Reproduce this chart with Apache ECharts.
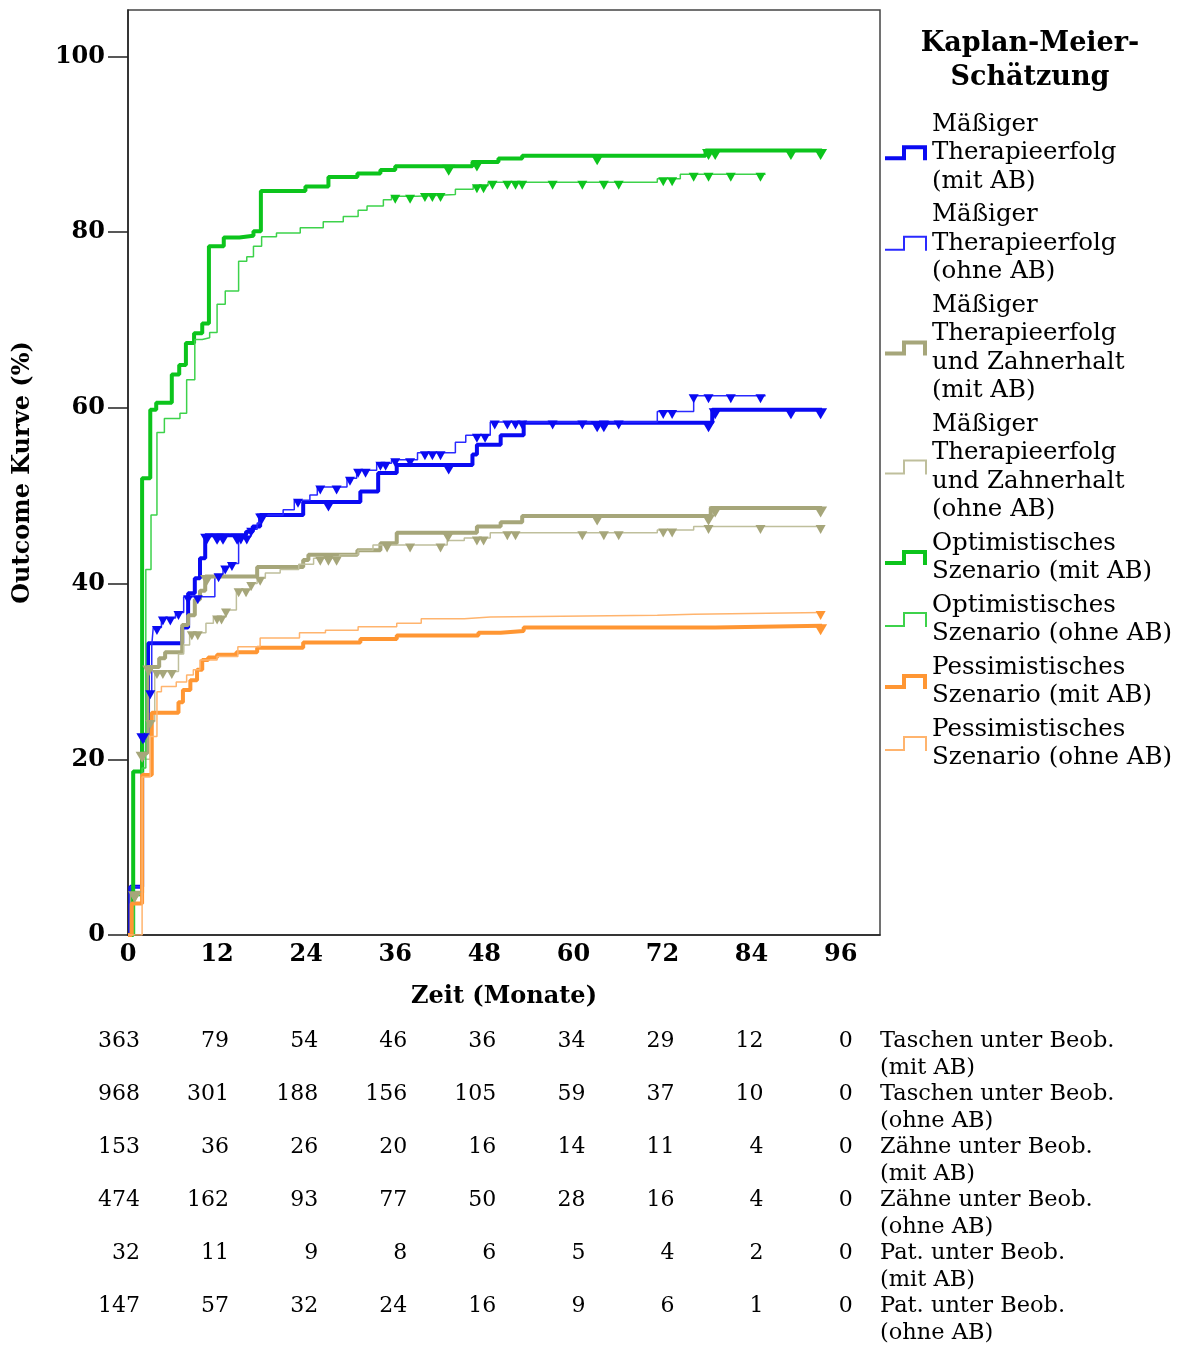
<!DOCTYPE html>
<html>
<head>
<meta charset="utf-8">
<script src="https://cdn.jsdelivr.net/npm/echarts@6/dist/echarts.min.js"></script>
<style>
  html, body { margin: 0; padding: 0; background: #ffffff; }
  #chart { width: 1183px; height: 1347px; }
</style>
</head>
<body>
<div id="chart"></div>
<script>
// Axis tick values
const xTicks = [0, 12, 24, 36, 48, 60, 72, 84, 96];
const yTicks = [0, 20, 40, 60, 80, 100];

// Kaplan-Meier step points: [Zeit in Monaten, kumulierter Anteil in %]
const maessigMitSteps = [[0,0],[0.3,5.5],[1.9,22.8],[2.7,33.2],[7.3,35.0],[8.1,38.9],[9.0,40.6],[9.7,42.9],[10.4,45.5],[15.9,45.9],[16.8,46.5],[17.8,47.8],[23.6,49.3],[31.3,50.5],[33.7,52.6],[36.2,53.5],[46.4,54.7],[47.0,55.8],[50.2,56.9],[53.3,58.3],[78.7,59.8],[93.5,59.8]];
const maessigOhneSteps = [[0,0],[0.3,5.5],[1.9,22.0],[2.4,27.7],[3.2,33.0],[3.4,35.0],[4.5,36.1],[6.4,36.7],[7.5,38.5],[11.7,41.0],[12.8,41.9],[13.6,42.3],[14.9,45.3],[16.5,46.2],[17.4,46.9],[17.8,47.8],[20.9,48.4],[22.4,49.5],[24.5,50.1],[25.5,51.0],[29.5,52.0],[30.8,52.9],[33.5,53.7],[35.5,54.1],[39.0,54.9],[44.1,56.1],[45.5,56.9],[48.8,58.4],[71.3,59.6],[76.2,61.4],[85.9,61.4]];
const zahnMitSteps = [[0,0],[0.5,4.8],[1.9,20.7],[2.6,30.5],[4.2,31.5],[5.0,32.2],[7.3,35.3],[8.1,36.4],[9.0,38.2],[9.7,39.2],[10.4,40.8],[17.4,41.9],[23.6,42.7],[24.3,43.3],[30.9,43.8],[34.0,44.6],[36.2,45.8],[47.0,46.5],[50.2,47.0],[53.1,47.7],[78.5,48.6],[93.5,48.6]];
const zahnOhneSteps = [[0,0],[0.5,4.5],[1.9,20.0],[3.0,24.3],[3.6,30.0],[6.8,32.0],[7.5,33.0],[8.3,34.4],[10.5,35.5],[11.5,36.2],[13.2,37.0],[14.6,39.3],[16.5,40.0],[17.4,40.6],[18.5,41.2],[20.5,41.6],[23.0,42.2],[25.0,42.9],[28.5,43.3],[31.0,43.8],[33.0,44.4],[43.0,44.9],[45.3,45.2],[48.8,45.8],[71.3,46.1],[76.2,46.5],[93.5,46.5]];
const optimMitSteps = [[0,0],[0.7,18.6],[1.9,52.0],[3.0,59.8],[3.8,60.6],[5.9,63.8],[6.9,64.9],[7.8,67.4],[8.9,68.5],[10.0,69.6],[10.9,78.4],[12.9,79.4],[15.0,79.6],[16.9,80.1],[17.9,84.7],[23.9,85.2],[27.0,86.3],[30.9,86.7],[34.0,87.1],[36.0,87.5],[46.4,88.0],[49.9,88.4],[53.1,88.7],[77.8,89.3],[93.5,89.3]];
const optimOhneSteps = [[0,0],[0.8,4.5],[1.9,19.0],[2.4,41.6],[3.1,47.8],[3.9,57.2],[4.9,58.8],[7.0,59.4],[7.9,63.2],[9.0,67.8],[10.0,68.0],[11.0,68.6],[12.0,71.8],[13.1,73.3],[14.9,76.7],[16.0,77.2],[16.9,78.4],[18.0,79.5],[20.0,79.9],[23.2,80.5],[26.3,81.2],[29.0,81.8],[31.0,82.5],[32.2,83.0],[34.4,83.7],[35.5,84.1],[39.0,84.3],[44.1,84.9],[46.5,85.3],[48.5,85.7],[71.3,86.1],[74.4,86.6],[85.9,86.6]];
const pessimMitSteps = [[0,0],[0.5,3.6],[1.9,18.2],[3.2,25.3],[6.8,26.5],[7.4,27.9],[8.4,29.0],[9.3,30.2],[10.0,31.3],[10.8,31.6],[12.0,31.9],[14.6,32.2],[17.4,32.7],[23.6,33.3],[31.3,33.7],[36.2,34.1],[47.2,34.4],[50.2,34.6],[53.3,35.0],[79.1,35.2],[93.5,35.2]];
const pessimOhneSteps = [[0,0],[1.9,18.0],[3.0,22.6],[3.9,27.7],[4.5,28.3],[6.5,28.8],[7.9,29.6],[8.8,30.2],[9.7,31.3],[12.0,31.7],[14.8,32.8],[17.8,33.8],[23.1,34.4],[26.6,34.7],[31.0,35.1],[36.2,35.5],[39.5,36.0],[45.3,36.2],[48.8,36.4],[71.3,36.5],[76.2,36.7],[93.5,36.7]];

// Censoring times (Monate) per curve
const maessigMitCensor = [2.0, 10.6, 12.0, 12.8, 14.7, 18.0, 27.0, 43.2, 63.2, 64.1, 78.2, 79.1, 89.3, 93.3];
const maessigOhneCensor = [3.0, 3.9, 4.7, 5.7, 6.8, 8.1, 9.4, 12.2, 13.1, 14.0, 15.2, 16.0, 16.6, 18.0, 22.9, 25.9, 28.1, 29.9, 31.0, 32.0, 34.0, 34.7, 36.0, 38.0, 40.0, 41.0, 42.1, 47.0, 48.1, 49.4, 51.1, 52.2, 53.1, 57.2, 61.2, 64.1, 66.1, 72.1, 73.3, 76.2, 78.2, 81.2, 85.2];
const zahnMitCensor = [0.9, 1.9, 2.8, 10.6, 27.0, 43.1, 63.2, 78.2, 79.1, 93.3];
const zahnOhneCensor = [0.9, 3.0, 3.9, 4.7, 5.9, 8.6, 9.4, 12.0, 12.6, 13.2, 14.9, 15.9, 16.6, 17.8, 25.9, 27.0, 28.1, 34.9, 38.0, 42.1, 47.0, 47.9, 51.1, 52.2, 61.2, 64.1, 66.1, 72.1, 73.3, 78.2, 85.2, 93.3];
const optimMitCensor = [43.2, 47.0, 63.2, 78.2, 79.1, 89.3, 93.3];
const optimOhneCensor = [36.0, 38.0, 40.0, 41.0, 42.1, 47.0, 47.9, 49.1, 51.1, 52.2, 53.1, 57.2, 61.2, 64.1, 66.1, 72.1, 73.3, 76.2, 78.2, 81.2, 85.2];
const pessimMitCensor = [93.3];
const pessimOhneCensor = [93.3];

// Number at risk below the plot
const riskTaschenMit = [363, 79, 54, 46, 36, 34, 29, 12, 0];
const riskTaschenOhne = [968, 301, 188, 156, 105, 59, 37, 10, 0];
const riskZaehneMit = [153, 36, 26, 20, 16, 14, 11, 4, 0];
const riskZaehneOhne = [474, 162, 93, 77, 50, 28, 16, 4, 0];
const riskPatMit = [32, 11, 9, 8, 6, 5, 4, 2, 0];
const riskPatOhne = [147, 57, 32, 24, 16, 9, 6, 1, 0];
const riskLabels = ['Taschen unter Beob.\n(mit AB)', 'Taschen unter Beob.\n(ohne AB)', 'Zähne unter Beob.\n(mit AB)', 'Zähne unter Beob.\n(ohne AB)', 'Pat. unter Beob.\n(mit AB)', 'Pat. unter Beob.\n(ohne AB)'];

const seriesNames = [
  'Mäßiger Therapieerfolg (mit AB)',
  'Mäßiger Therapieerfolg (ohne AB)',
  'Mäßiger Therapieerfolg und Zahnerhalt (mit AB)',
  'Mäßiger Therapieerfolg und Zahnerhalt (ohne AB)',
  'Optimistisches Szenario (mit AB)',
  'Optimistisches Szenario (ohne AB)',
  'Pessimistisches Szenario (mit AB)',
  'Pessimistisches Szenario (ohne AB)'
];
const legendTexts = [
  'Mäßiger\nTherapieerfolg\n(mit AB)',
  'Mäßiger\nTherapieerfolg\n(ohne AB)',
  'Mäßiger\nTherapieerfolg\nund Zahnerhalt\n(mit AB)',
  'Mäßiger\nTherapieerfolg\nund Zahnerhalt\n(ohne AB)',
  'Optimistisches\nSzenario (mit AB)',
  'Optimistisches\nSzenario (ohne AB)',
  'Pessimistisches\nSzenario (mit AB)',
  'Pessimistisches\nSzenario (ohne AB)'
];

// ---- styling ----
const FONT = 'DejaVu Serif';
const curves = [
  { steps: maessigMitSteps,  censor: maessigMitCensor,  line: '#0a0af2', mark: '#0a0af2', thick: true },
  { steps: maessigOhneSteps, censor: maessigOhneCensor, line: '#2a2aff', mark: '#0a0af2', thick: false },
  { steps: zahnMitSteps,     censor: zahnMitCensor,     line: '#a6a67a', mark: '#a6a67a', thick: true },
  { steps: zahnOhneSteps,    censor: zahnOhneCensor,    line: '#bfbf9c', mark: '#a6a67a', thick: false },
  { steps: optimMitSteps,    censor: optimMitCensor,    line: '#0cc41c', mark: '#0cc41c', thick: true },
  { steps: optimOhneSteps,   censor: optimOhneCensor,   line: '#3dd24b', mark: '#0cc41c', thick: false },
  { steps: pessimMitSteps,   censor: pessimMitCensor,   line: '#ff9633', mark: '#ff9633', thick: true },
  { steps: pessimOhneSteps,  censor: pessimOhneCensor,  line: '#ffb46e', mark: '#ff9633', thick: false }
];

const ICON_THICK = 'path://M0,11L17,11L17,0L42,0L42,15L38,15L38,4L21,4L21,15L0,15Z';
const ICON_THIN = 'path://M0,13L18,13L18,0L42,0L42,15L40,15L40,2L20,2L20,15L0,15Z';
const TRI = 'path://M0,0L12,0L6,10Z';

// value of a step curve at time t (right-continuous)
function valueAt(steps, t) {
  let v = steps[0][1];
  for (const p of steps) { if (p[0] <= t) v = p[1]; else break; }
  return v;
}

const series = [];
curves.forEach(function (c, i) {
  series.push({
    name: seriesNames[i],
    type: 'line',
    step: 'end',
    data: c.steps,
    symbol: 'none',
    lineStyle: { color: c.line, width: c.thick ? 4 : 1.5 },
    itemStyle: { color: c.line },
    z: 2 + i
  });
});
curves.forEach(function (c, i) {
  series.push({
    name: 'zensiert ' + i,
    type: 'scatter',
    data: c.censor.map(function (t) { return [t, valueAt(c.steps, t)]; }),
    symbol: TRI,
    symbolSize: c.thick ? [13, 11] : [10, 9],
    symbolOffset: [0, c.thick ? 4 : 3],
    itemStyle: { color: c.mark, opacity: 1 },
    z: 20 + i
  });
});

const chart = echarts.init(document.getElementById('chart'), null, { renderer: 'canvas' });
chart.setOption({
  animation: false,
  backgroundColor: '#ffffff',
  title: {
    text: 'Kaplan-Meier-\nSchätzung',
    left: 1030,
    top: 27,
    padding: 0,
    textAlign: 'center',
    textStyle: { fontFamily: FONT, fontWeight: 'bold', fontSize: 27, lineHeight: 34, color: '#000' }
  },
  legend: {
    orient: 'vertical',
    left: 885,
    top: 110,
    padding: 0,
    itemGap: 5,
    itemWidth: 42,
    itemHeight: 15,
    selectedMode: false,
    itemStyle: { borderWidth: 0 },
    data: seriesNames.map(function (n, i) {
      return { name: n, icon: curves[i].thick ? ICON_THICK : ICON_THIN };
    }),
    formatter: function (name) { return legendTexts[seriesNames.indexOf(name)]; },
    textStyle: { fontFamily: FONT, fontSize: 24.5, lineHeight: 28.5, color: '#000' }
  },
  grid: {
    left: 128, right: 303, top: 10, bottom: 412,
    show: true, borderColor: '#444', borderWidth: 1.5, backgroundColor: 'transparent',
    containLabel: false, outerBoundsMode: 'none'
  },
  xAxis: {
    type: 'value',
    min: 0, max: 101.3, interval: 12,
    name: 'Zeit (Monate)',
    nameLocation: 'middle',
    nameGap: 50,
    nameTextStyle: { fontFamily: FONT, fontWeight: 'bold', fontSize: 24, color: '#000' },
    axisLine: { show: true, lineStyle: { color: '#222', width: 1.5 } },
    axisTick: { show: false },
    splitLine: { show: false },
    axisLabel: {
      customValues: xTicks,
      margin: 8,
      fontFamily: FONT, fontWeight: 'bold', fontSize: 24, color: '#000'
    }
  },
  yAxis: {
    type: 'value',
    min: 0, max: 105.3, interval: 20,
    name: 'Outcome Kurve (%)',
    nameLocation: 'middle',
    nameGap: 93,
    nameTextStyle: { fontFamily: FONT, fontWeight: 'bold', fontSize: 24, color: '#000' },
    axisLine: { show: true, lineStyle: { color: '#222', width: 1.5 } },
    axisTick: { show: true, inside: false, length: 20, customValues: yTicks, lineStyle: { color: '#222', width: 1.5 } },
    splitLine: { show: false },
    axisLabel: {
      customValues: yTicks,
      margin: 23,
      fontFamily: FONT, fontWeight: 'bold', fontSize: 24, color: '#000'
    }
  },
  series: series
});

// Number-at-risk table, columns placed on the time axis
const riskRows = [riskTaschenMit, riskTaschenOhne, riskZaehneMit, riskZaehneOhne, riskPatMit, riskPatOhne];
const graphics = [];
riskRows.forEach(function (row, r) {
  const y = 1041 + r * 53;
  row.forEach(function (n, k) {
    const x = chart.convertToPixel({ xAxisIndex: 0 }, xTicks[k]) + 12;
    graphics.push({
      type: 'text', silent: true,
      style: {
        text: String(n), x: x, y: y,
        align: 'right', verticalAlign: 'middle',
        textAlign: 'right', textVerticalAlign: 'middle',
        font: '22px "DejaVu Serif"', fill: '#000'
      }
    });
  });
  graphics.push({
    type: 'text', silent: true,
    style: {
      text: riskLabels[r], x: 880, y: y - 13.5,
      align: 'left', verticalAlign: 'top',
      textAlign: 'left', textVerticalAlign: 'top',
      font: '22.5px "DejaVu Serif"', lineHeight: 27, fill: '#000'
    }
  });
});
chart.setOption({ graphic: graphics });
</script>
</body>
</html>
